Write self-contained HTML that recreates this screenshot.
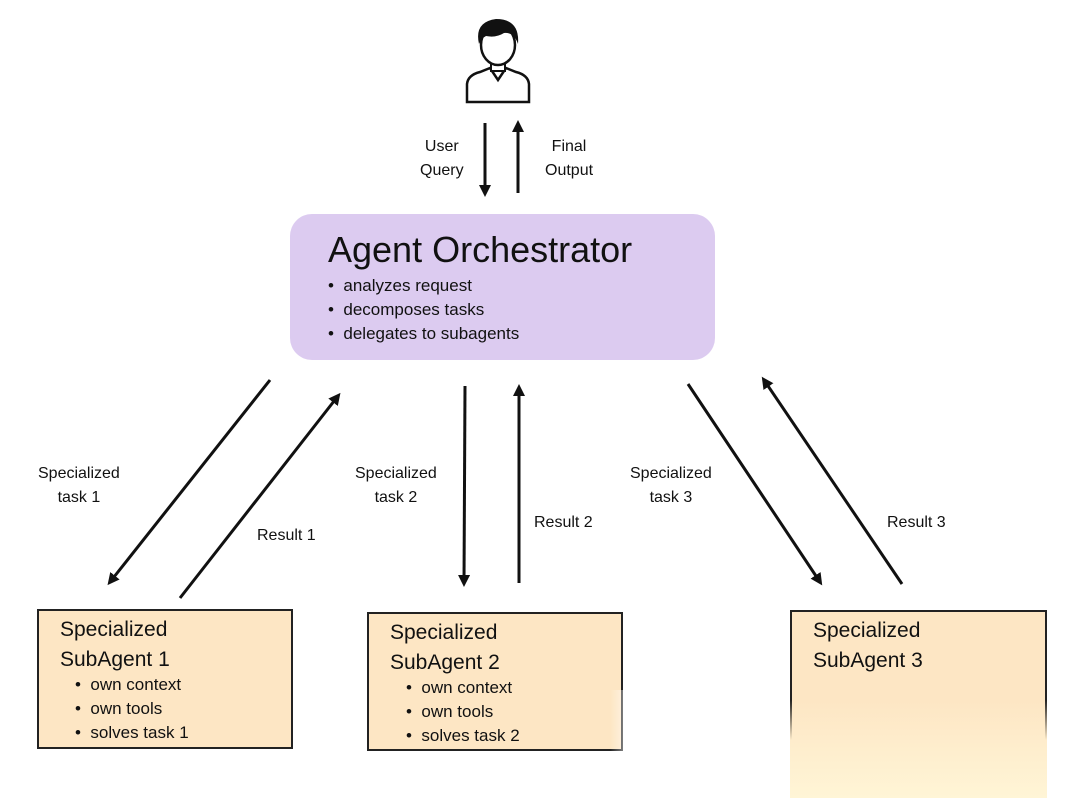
<!DOCTYPE html>
<html><head><meta charset="utf-8"><style>
body{margin:0;width:1080px;height:798px;background:#fff;position:relative;overflow:hidden;font-family:"Liberation Sans",sans-serif;color:#111}
.t{position:absolute;white-space:nowrap}
.lbl{font-size:16px;line-height:24px;text-align:center}
.box{position:absolute;background:#fde6c4;border:2px solid #222;box-sizing:border-box}
.h{font-size:21px;line-height:30px}
.b{font-size:17px;line-height:24px}
</style></head><body>
<svg width="1080" height="798" style="position:absolute;left:0;top:0">
<defs><marker id="a" markerWidth="12" markerHeight="12" refX="8" refY="6" orient="auto" markerUnits="userSpaceOnUse"><path d="M0,0 L12,6 L0,12 z" fill="#111"/></marker></defs>
<g stroke="#111" stroke-width="2.5" fill="#fff">
<path d="M467,102 L467,84 Q468,75 480,72 L490,68 L498,80 L506,68 L516,72 Q528,75 529,84 L529,102 Z"/>
<rect x="491" y="57" width="14" height="14" stroke-width="2"/>
<ellipse cx="498" cy="45" rx="17" ry="20"/>
</g>
<path d="M479,44 Q474,22 496,19 Q520,19 518,44 Q514,32 504,33 Q496,38 486,36 Q482,38 479,44 Z" fill="#111"/>
<g stroke="#111" stroke-width="3" fill="none" marker-end="url(#a)">
<line x1="485" y1="123" x2="485" y2="193"/>
<line x1="518" y1="193" x2="518" y2="124"/>
<line x1="270" y1="380" x2="110" y2="582"/>
<line x1="180" y1="598" x2="338" y2="396"/>
<line x1="465" y1="386" x2="464" y2="583"/>
<line x1="519" y1="583" x2="519" y2="388"/>
<line x1="688" y1="384" x2="820" y2="582"/>
<line x1="902" y1="584" x2="764" y2="380"/>
</g>
</svg>
<div class="t lbl" style="left:420px;top:135px">User<br>Query</div>
<div class="t lbl" style="left:545px;top:135px">Final<br>Output</div>
<div style="position:absolute;left:290px;top:214px;width:425px;height:146px;background:#dccbf0;border-radius:22px"></div>
<div class="t" style="left:328px;top:226px;font-size:36px;line-height:48px">Agent Orchestrator</div>
<div class="t b" style="left:328px;top:274px">•&nbsp; analyzes request<br>•&nbsp; decomposes tasks<br>•&nbsp; delegates to subagents</div>
<div class="t lbl" style="left:38px;top:462px">Specialized<br>task 1</div>
<div class="t lbl" style="left:355px;top:462px">Specialized<br>task 2</div>
<div class="t lbl" style="left:630px;top:462px">Specialized<br>task 3</div>
<div class="t lbl" style="left:257px;top:524px">Result 1</div>
<div class="t lbl" style="left:534px;top:511px">Result 2</div>
<div class="t lbl" style="left:887px;top:511px">Result 3</div>
<div class="box" style="left:37px;top:609px;width:256px;height:140px"></div>
<div class="t h" style="left:60px;top:615px">Specialized<br>SubAgent 1</div>
<div class="t b" style="left:75px;top:673px">•&nbsp; own context<br>•&nbsp; own tools<br>•&nbsp; solves task 1</div>
<div class="box" style="left:367px;top:612px;width:256px;height:139px"></div>
<div style="position:absolute;left:610px;top:690px;width:80px;height:70px;background:linear-gradient(to right,rgba(255,255,255,0),#fff 40%)"></div>
<div class="t h" style="left:390px;top:618px">Specialized<br>SubAgent 2</div>
<div class="t b" style="left:406px;top:676px">•&nbsp; own context<br>•&nbsp; own tools<br>•&nbsp; solves task 2</div>
<div class="box" style="left:790px;top:610px;width:257px;height:90px;border-bottom:none"></div>
<div style="position:absolute;left:790px;top:700px;width:257px;height:98px;background:linear-gradient(to bottom,#fde6c4,#fff5d6)"></div>
<div style="position:absolute;left:790px;top:700px;width:2px;height:40px;background:linear-gradient(#222,rgba(34,34,34,0))"></div>
<div style="position:absolute;left:1045px;top:700px;width:2px;height:40px;background:linear-gradient(#222,rgba(34,34,34,0))"></div>
<div class="t h" style="left:813px;top:616px">Specialized<br>SubAgent 3</div>
</body></html>
